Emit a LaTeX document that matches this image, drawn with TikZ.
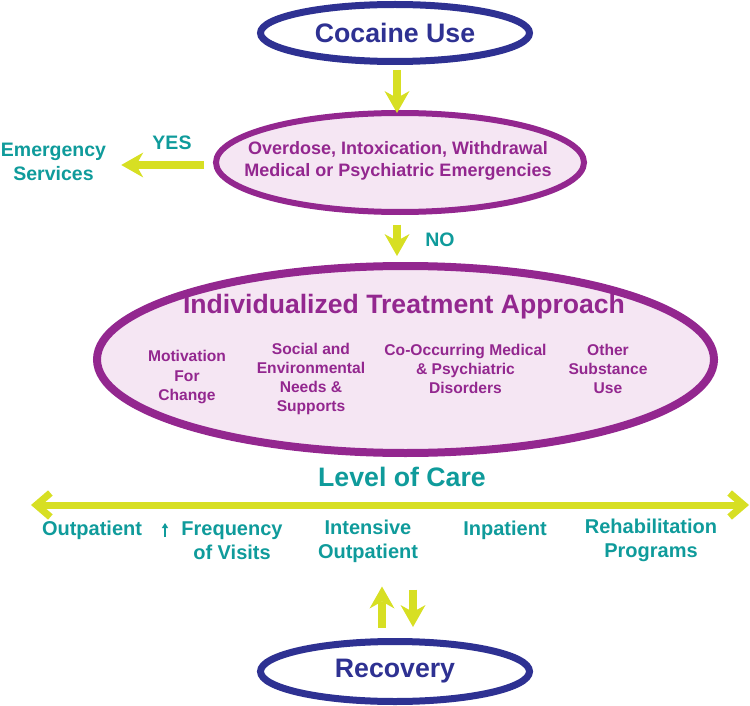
\documentclass[tikz,border=0pt]{standalone}
\usepackage{fontspec}
\setmainfont{Liberation Sans}
\usetikzlibrary{arrows.meta,shapes.geometric,calc}
\definecolor{cblue}{HTML}{2E3192}
\definecolor{cpurple}{HTML}{93278F}
\definecolor{cfill}{HTML}{F5E6F3}
\definecolor{cteal}{HTML}{0F9B9B}
\definecolor{clime}{HTML}{D7DF23}
\begin{document}
\begin{tikzpicture}[x=1pt,y=-1pt,
  blueell/.style={ellipse, draw=cblue, line width=7pt, fill=white, inner sep=0pt,
    text=cblue, font=\bfseries\fontsize{26.7}{30}\selectfont},
  purell/.style={ellipse, draw=cpurple, fill=cfill, inner sep=0pt},
  purtxt/.style={text=cpurple, align=center, inner sep=0pt},
  medtxt/.style={purtxt, font=\bfseries\fontsize{18}{22}\selectfont},
  subtxt/.style={purtxt, font=\bfseries\fontsize{15.6}{19.3}\selectfont},
  tealtxt/.style={text=cteal, align=center, inner sep=0pt, font=\bfseries\fontsize{20}{24}\selectfont},
  tealsm/.style={text=cteal, align=center, inner sep=0pt, font=\bfseries\fontsize{19.5}{24}\selectfont},
  fat/.style={draw=clime, line width=7.5pt,
    -{Stealth[length=22pt,width=25pt,inset=7pt,line width=0pt]}},
  barbs/.style={draw=clime, line width=7pt,
    {Straight Barb[length=14pt,width=24pt]}-{Straight Barb[length=14pt,width=24pt]}}
]
\useasboundingbox (0,0) rectangle (750,706);

% top ellipse
\node[blueell, minimum width=269pt, minimum height=57pt] (cocaine) at (395,33) {Cocaine Use};

% emergency ellipse
\node[purell, line width=6pt, minimum width=368pt, minimum height=99pt] (overdose) at (400,162.5) {};
\node[medtxt] (overdoset) at (398,161) {Overdose, Intoxication, Withdrawal\\Medical or Psychiatric Emergencies};

% emergency services
\node[tealsm] (emerg) at (53.5,162) {Emergency\\Services};
\node[tealsm] (yes) at (172,143) {YES};
\node[tealsm] (no) at (440,240) {NO};

% big ellipse
\node[purell, line width=8pt, minimum width=617pt, minimum height=187pt] (ita) at (405.5,359.5) {};
\node[purtxt, font=\bfseries\fontsize{26.6}{30}\selectfont] (itat) at (404,307) {Individualized Treatment Approach};
\node[subtxt] (mot) at (187,377) {Motivation\\For\\Change};
\node[subtxt] (soc) at (311,379) {Social and\\Environmental\\Needs \&\\Supports};
\node[subtxt] (coo) at (465.5,369) {Co-Occurring Medical\\\& Psychiatric\\Disorders};
\node[subtxt] (oth) at (608,369) {Other\\Substance\\Use};

% level of care
\node[text=cteal, inner sep=0pt, font=\bfseries\fontsize{26.7}{30}\selectfont] (loc) at (402,477) {Level of Care};
\coordinate (lcL) at (31,505);
\coordinate (lcR) at (749,505);
\draw[barbs] (lcL) -- (lcR);

\node[tealtxt] (outp) at (92,530) {Outpatient};
\node[tealtxt] (freq) at (232,541) {Frequency\\of Visits};
\node[tealtxt] (intout) at (368,541) {Intensive\\Outpatient};
\node[tealtxt] (inp) at (505,530) {Inpatient};
\node[tealtxt] (rehab) at (651,540) {Rehabilitation\\Programs};
\coordinate (smA) at (165,537);
\coordinate (smB) at (165,523);
\draw[cteal, line width=1.6pt, -{Triangle[length=5pt,width=6pt]}] (smA) -- (smB);

% recovery
\node[blueell, minimum width=269pt, minimum height=60pt] (recovery) at (395,671.5) {Recovery};

% arrows
\draw[fat, shorten <=5pt, shorten >=-3pt] ([xshift=2pt]cocaine.south) -- ([xshift=2pt]cocaine.south |- overdose.north);
\draw[fat, shorten <=9pt, shorten >=15pt] ([yshift=-3pt]overdose.west |- emerg.east) -- ([yshift=-3pt]emerg.east);
\draw[fat, shorten <=9.5pt, shorten >=6pt] ([xshift=-3pt]overdose.south) -- ([xshift=-3pt]overdose.south |- ita.north);
\draw[fat, shorten <=10pt, shorten >=24pt] ([xshift=-13pt]recovery.north) -- ([xshift=-13pt]recovery.north |- intout.south);
\draw[fat, shorten <=27pt, shorten >=11pt] ([xshift=18pt]recovery.north |- intout.south) -- ([xshift=18pt]recovery.north);
\end{tikzpicture}
\end{document}
